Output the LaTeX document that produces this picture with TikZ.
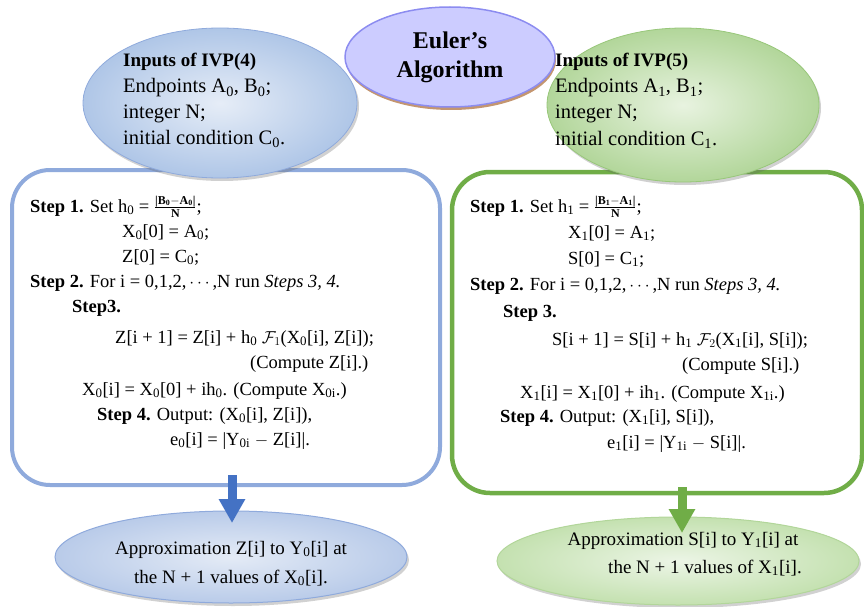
\documentclass[tikz,border=0pt]{standalone}
\usepackage{amsmath}
\usepackage{fontspec}
\setmainfont{Liberation Serif}
\usetikzlibrary{shapes.geometric,shadows,arrows.meta}
\newcommand{\sbs}[1]{\textsubscript{#1}}
\newcommand{\smfrac}[2]{$\genfrac{}{}{0.6pt}{}{\mbox{\fontsize{12}{12}\selectfont\bfseries #1}}{\mbox{\fontsize{12}{12}\selectfont\bfseries #2}}$}
\definecolor{boxblue}{HTML}{8FAADC}
\definecolor{boxgreen}{HTML}{70AD47}
\definecolor{arrblue}{HTML}{4472C4}
\definecolor{arrgreen}{HTML}{70AD47}
\definecolor{lavfill}{HTML}{CCCCFF}
\definecolor{lavdraw}{HTML}{8C8CF0}
\definecolor{brownsh}{HTML}{C49670}
\definecolor{bluein}{HTML}{E6EDF7}
\definecolor{blueout}{HTML}{AFC6E7}
\definecolor{greenin}{HTML}{E8F3E0}
\definecolor{greenout}{HTML}{B2D69A}
\definecolor{greendraw}{HTML}{98C77A}
\definecolor{bluein2}{HTML}{E4EBF6}
\definecolor{blueout2}{HTML}{B9CBE9}
\definecolor{greenin2}{HTML}{ECF5E6}
\definecolor{greenout2}{HTML}{C4E1B0}
\tikzset{
  boxtxt/.style={anchor=base west, inner sep=0pt, font=\fontsize{18.5}{22}\selectfont},
  intxt/.style={anchor=base west, inner sep=0pt, font=\fontsize{20.5}{24}\selectfont},
  outtxt/.style={anchor=base, inner sep=0pt, font=\fontsize{19}{22}\selectfont},
  stepbox/.style={draw, rounded corners=38pt, fill=white, inner sep=0pt},
  oval/.style={ellipse, inner sep=0pt},
  softshadow/.style={drop shadow={shadow xshift=2pt, shadow yshift=-3pt, opacity=0.3, fill=black!60}},
  bigarrow/.style={line width=9pt, -{Triangle[width=25pt,length=24pt]}}
}
\begin{document}
\begin{tikzpicture}[x=1pt,y=-1pt]
\useasboundingbox (0,0) rectangle (864,607);

% step boxes
\node[stepbox, draw=boxblue, line width=4pt, minimum width=428pt, minimum height=315pt] (box0) at (226,327.5) {};
\node[stepbox, draw=boxgreen, line width=4.5pt, minimum width=410pt, minimum height=321pt] (box1) at (657,332.5) {};

% title ellipse
\node[oval, fill=lavfill, draw=lavdraw, line width=1.5pt, minimum width=210pt, minimum height=100pt,
      drop shadow={shadow xshift=1pt, shadow yshift=-3pt, opacity=1, fill=brownsh},
      align=center, font=\fontsize{24}{29}\selectfont\bfseries] (title) at (450,57) {Euler’s\\Algorithm};

% input ellipses
\node[oval, softshadow, draw=boxblue, line width=0.8pt, inner color=bluein, outer color=blueout,
      minimum width=274pt, minimum height=150pt] (in0) at (220,103) {};
\node[oval, softshadow, draw=greendraw, line width=0.8pt, inner color=greenin, outer color=greenout,
      minimum width=272pt, minimum height=154pt] (in1) at (683,105) {};

\node[intxt, font=\fontsize{19}{22}\selectfont\bfseries] (i0a) at (123,67) {Inputs of IVP(4)};
\node[intxt] (i0b) at (123,93) {Endpoints A\sbs{0}, B\sbs{0};};
\node[intxt] (i0c) at (123,118) {integer N;};
\node[intxt] (i0d) at (123,144) {initial condition C\sbs{0}.};

\node[intxt, font=\fontsize{19}{22}\selectfont\bfseries] (i1a) at (555,67) {Inputs of IVP(5)};
\node[intxt] (i1b) at (555,93) {Endpoints A\sbs{1}, B\sbs{1};};
\node[intxt] (i1c) at (555,119) {integer N;};
\node[intxt] (i1d) at (555,145) {initial condition C\sbs{1}.};

% left box text
\node[boxtxt] (l1) at (30,212) {\textbf{Step 1.} Set h\sbs{0} = \smfrac{|B\sbs{0}$-$A\sbs{0}|}{N};};
\node[boxtxt] (l2) at (122,237) {X\sbs{0}[0] = A\sbs{0};};
\node[boxtxt] (l3) at (122,262) {Z[0] = C\sbs{0};};
\node[boxtxt] (l4) at (30,287) {\textbf{Step 2.} For i = 0,1,2,$\,\cdots\,$,N run \textit{Steps 3, 4.}};
\node[boxtxt] (l5) at (72,312) {\textbf{Step3.}};
\node[boxtxt] (l6) at (115,343) {Z[i + 1] = Z[i] + h\sbs{0} $\mathcal{F}_1$(X\sbs{0}[i], Z[i]);};
\node[boxtxt] (l7) at (250,368) {(Compute Z[i].)};
\node[boxtxt] (l8) at (82,395) {X\sbs{0}[i] = X\sbs{0}[0] + ih\sbs{0}. (Compute X\sbs{0i}.)};
\node[boxtxt] (l9) at (97,420) {\textbf{Step 4.} Output: (X\sbs{0}[i], Z[i]),};
\node[boxtxt] (l10) at (170,445) {e\sbs{0}[i] = |Y\sbs{0i} $-$ Z[i]|.};

% right box text
\node[boxtxt] (r1) at (470,212) {\textbf{Step 1.} Set h\sbs{1} = \smfrac{|B\sbs{1}$-$A\sbs{1}|}{N};};
\node[boxtxt] (r2) at (568,238) {X\sbs{1}[0] = A\sbs{1};};
\node[boxtxt] (r3) at (568,264) {S[0] = C\sbs{1};};
\node[boxtxt] (r4) at (470,290) {\textbf{Step 2.} For i = 0,1,2,$\,\cdots\,$,N run \textit{Steps 3, 4.}};
\node[boxtxt] (r5) at (503,317) {\textbf{Step 3.}};
\node[boxtxt] (r6) at (552,345) {S[i + 1] = S[i] + h\sbs{1} $\mathcal{F}_2$(X\sbs{1}[i], S[i]);};
\node[boxtxt] (r7) at (682,370) {(Compute S[i].)};
\node[boxtxt] (r8) at (520,398) {X\sbs{1}[i] = X\sbs{1}[0] + ih\sbs{1}. (Compute X\sbs{1i}.)};
\node[boxtxt] (r9) at (500,422) {\textbf{Step 4.} Output: (X\sbs{1}[i], S[i]),};
\node[boxtxt] (r10) at (607,448) {e\sbs{1}[i] = |Y\sbs{1i} $-$ S[i]|.};

% output ellipses
\node[oval, softshadow, draw=boxblue, line width=1pt, inner color=bluein2, outer color=blueout2,
      minimum width=352pt, minimum height=92pt] (out0) at (231,557) {};
\node[oval, softshadow, draw=greenout, line width=1pt, inner color=greenin2, outer color=greenout2,
      minimum width=362pt, minimum height=88pt] (out1) at (678,561) {};

\node[outtxt] (o0a) at (231,554) {Approximation Z[i] to Y\sbs{0}[i] at};
\node[outtxt] (o0b) at (231,583) {the N + 1 values of X\sbs{0}[i].};
\node[outtxt] (o1a) at (683,545) {Approximation S[i] to Y\sbs{1}[i] at};
\node[outtxt] (o1b) at (705,573) {the N + 1 values of X\sbs{1}[i].};

% arrows
\coordinate (a0s) at (232,475);
\coordinate (a0e) at (232,523);
\coordinate (a1s) at (682,487);
\coordinate (a1e) at (682,533);
\draw[bigarrow, arrblue] (a0s) -- (a0e);
\draw[bigarrow, arrgreen] (a1s) -- (a1e);
\end{tikzpicture}
\end{document}
